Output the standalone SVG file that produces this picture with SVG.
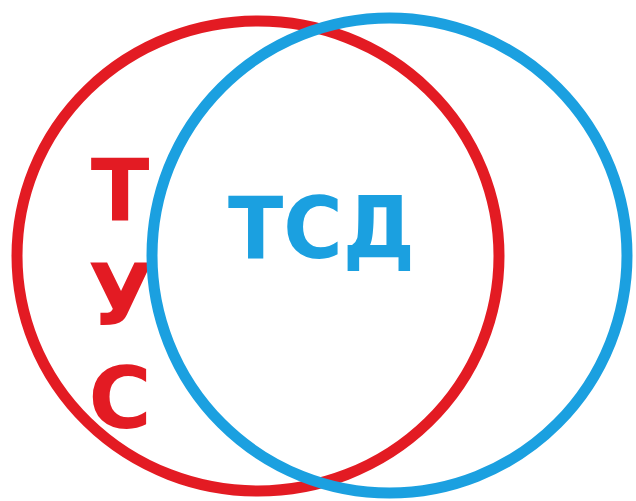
<svg xmlns="http://www.w3.org/2000/svg" width="636" height="501" viewBox="0 0 636 501">
<style>
.ring{fill:none;stroke-width:11}
.red{stroke:#E31B23}
.blue{stroke:#1BA0E0}
.lbl{font-family:"DejaVu Sans","Liberation Sans",sans-serif;font-weight:bold;font-size:86px}
</style>
<rect width="636" height="501" fill="#ffffff"/>
<g id="tus">
<ellipse class="ring red" cx="258" cy="256" rx="241" ry="235"/>
<text class="lbl" fill="#E31B23" text-anchor="middle" x="120" y="220">Т</text>
<text class="lbl" fill="#E31B23" text-anchor="middle" x="121" y="325">У</text>
<text class="lbl" fill="#E31B23" text-anchor="middle" x="120" y="428">С</text>
</g>
<g id="tsd">
<ellipse class="ring blue" cx="389.5" cy="255.5" rx="237.5" ry="237.5"/>
<text class="lbl" fill="#1BA0E0" x="228" y="258" textLength="187" lengthAdjust="spacingAndGlyphs">ТСД</text>
</g>
</svg>
